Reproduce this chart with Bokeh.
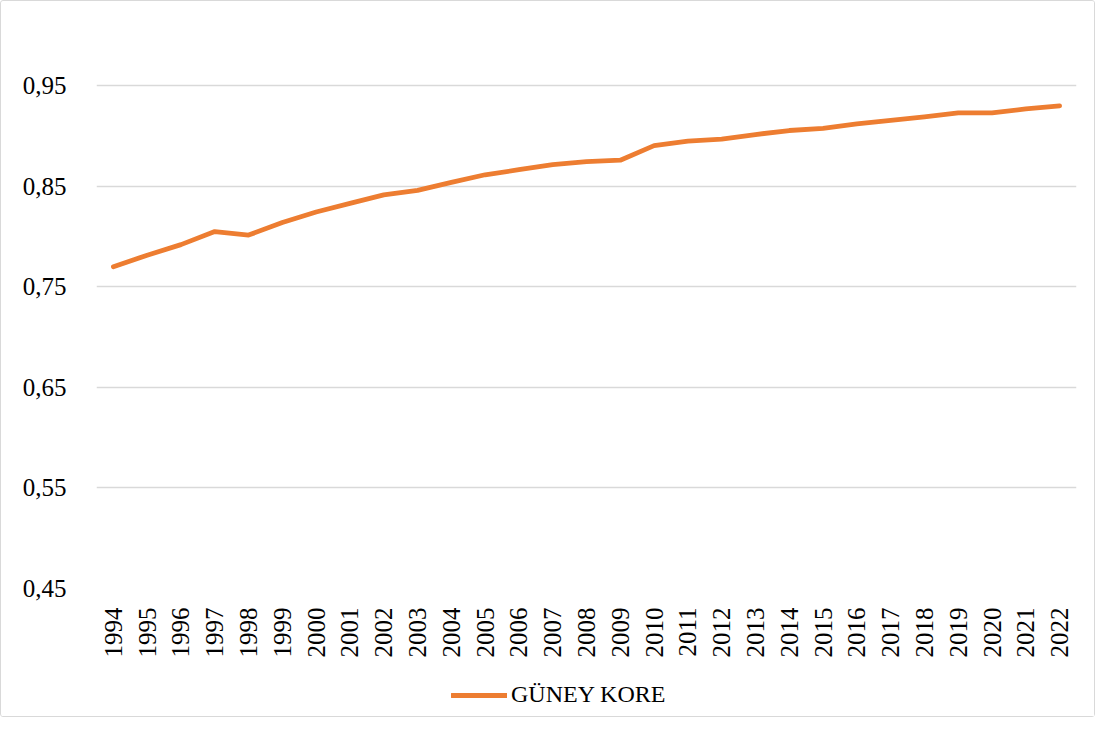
from bokeh.plotting import figure
from bokeh.layouts import column
from bokeh.models import FactorRange, Range1d, FixedTicker, CustomJSTickFormatter, Legend, LegendItem
from bokeh.embed import file_html
from bokeh.resources import INLINE
from math import pi

years = [str(y) for y in range(1994, 2023)]
values = [0.770, 0.7815, 0.792, 0.805, 0.8015, 0.814, 0.8245, 0.833, 0.8415, 0.846,
          0.854, 0.8615, 0.8665, 0.8715, 0.8745, 0.876, 0.8905, 0.895, 0.897, 0.9015,
          0.9055, 0.9077, 0.912, 0.9155, 0.919, 0.923, 0.923, 0.927, 0.930]
series_name = "GÜNEY KORE"
y_ticks = [0.45, 0.55, 0.65, 0.75, 0.85, 0.95]

FONT = "Liberation Serif"
ORANGE = "#ED7D31"

p = figure(width=1093, height=672, x_range=FactorRange(*years), y_range=Range1d(0.45, 1.0),
           output_backend="svg", toolbar_location=None,
           min_border_left=95, min_border_right=18, min_border_top=34, min_border_bottom=85)

line = p.line(years, values, line_color=ORANGE, line_width=4.8, line_cap="round", line_join="round")

p.outline_line_color = None
p.xgrid.grid_line_color = None
p.ygrid.grid_line_color = "#d9d9d9"
p.ygrid.grid_line_width = 1.3

p.yaxis.ticker = FixedTicker(ticks=y_ticks)
p.yaxis.formatter = CustomJSTickFormatter(code="return tick.toFixed(2).replace('.', ',');")
p.yaxis.axis_line_color = None
p.yaxis.major_tick_line_color = None
p.yaxis.minor_tick_line_color = None
p.yaxis.major_label_text_font = FONT
p.yaxis.major_label_text_font_size = "25px"
p.yaxis.major_label_text_color = "#000000"
p.yaxis.major_label_standoff = 24

p.xaxis.axis_line_color = None
p.xaxis.major_tick_line_color = None
p.xaxis.minor_tick_line_color = None
p.xaxis.major_label_orientation = pi / 2
p.xaxis.major_label_text_font = FONT
p.xaxis.major_label_text_font_size = "25px"
p.xaxis.major_label_text_color = "#000000"
p.xaxis.major_label_standoff = 13

# legend strip below the chart (its sample series lies outside this strip's range)
lg = figure(width=1093, height=43, x_range=FactorRange(*years), y_range=Range1d(0.0, 0.1),
            output_backend="svg", toolbar_location=None,
            x_axis_location=None, y_axis_location=None,
            min_border_left=0, min_border_right=0, min_border_top=0, min_border_bottom=0)
lg.grid.grid_line_color = None
lg.outline_line_color = None
sample = lg.line(years, values, line_color=ORANGE, line_width=4.8, line_cap="round")
legend = Legend(items=[LegendItem(label=series_name, renderers=[sample])],
                location=(355, 8), orientation="horizontal",
                label_text_font=FONT, label_text_font_size="24px", label_text_color="#000000",
                glyph_width=56, glyph_height=20, label_standoff=4,
                border_line_color=None, background_fill_alpha=0, margin=0, padding=4)
lg.add_layout(legend, "center")

layout = column(p, lg, spacing=0)
layout.styles = {"border": "1px solid #d9d9d9", "border-radius": "3px"}

open("out.html", "w").write(file_html(layout, INLINE))
